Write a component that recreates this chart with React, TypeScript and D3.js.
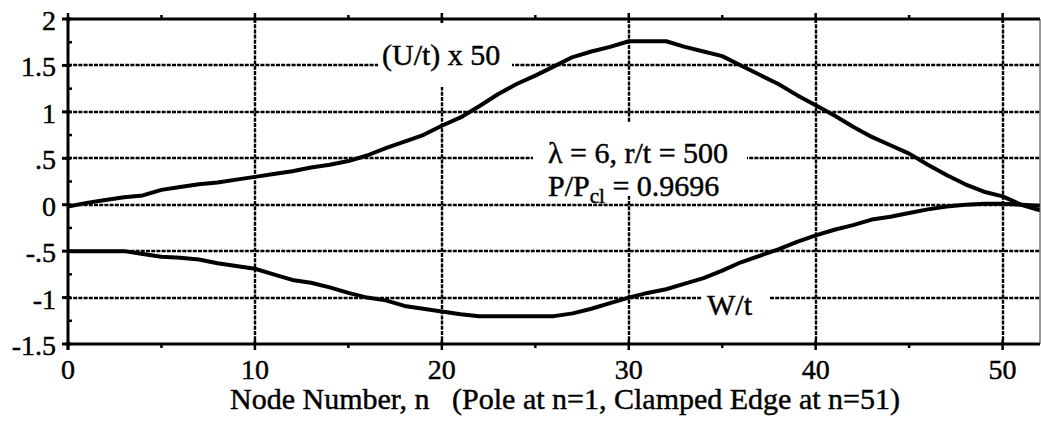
import React from "react";
import * as d3 from "d3";

// Node numbers along the shell meridian
const nodes: number[] = d3.range(0, 53);

// Meridional displacement, scaled: (U/t) x 50
const uScaled: number[] = [
  -0.02, 0.02, 0.05, 0.08, 0.1, 0.16, 0.19, 0.22, 0.24, 0.27,
  0.3, 0.33, 0.36, 0.4, 0.43, 0.47, 0.53, 0.61, 0.68, 0.75,
  0.85, 0.94, 1.06, 1.19, 1.3, 1.39, 1.49, 1.59, 1.65, 1.7,
  1.76, 1.76, 1.76, 1.7, 1.65, 1.6, 1.5, 1.4, 1.3, 1.18,
  1.07, 0.96, 0.84, 0.73, 0.64, 0.55, 0.43, 0.32, 0.22, 0.14,
  0.09, 0.0, -0.06,
];

// Normal displacement: W/t
const wNormal: number[] = [
  -0.5, -0.5, -0.5, -0.5, -0.53, -0.56, -0.57, -0.59, -0.63, -0.66,
  -0.69, -0.75, -0.81, -0.84, -0.89, -0.95, -1.0, -1.03, -1.09, -1.12,
  -1.15, -1.18, -1.2, -1.2, -1.2, -1.2, -1.2, -1.17, -1.12, -1.06,
  -1.0, -0.95, -0.91, -0.85, -0.79, -0.71, -0.62, -0.55, -0.48, -0.4,
  -0.33, -0.27, -0.22, -0.16, -0.13, -0.09, -0.05, -0.02, 0.0, 0.01,
  0.01, 0.0, -0.01,
];

const xMajorTicks: number[] = [0, 10, 20, 30, 40, 50];
const xMinorTicks: number[] = [5, 15, 25, 35, 45];
const yMajorTicks: number[] = [2, 1.5, 1, 0.5, 0, -0.5, -1, -1.5];
const yTickLabels: string[] = ["2", "1.5", "1", ".5", "0", "-.5", "-1", "-1.5"];
const yMinorTicks: number[] = [1.75, 1.25, 0.75, 0.25, -0.25, -0.75, -1.25];
const xGrid: number[] = [10, 20, 30, 40, 50];
const yGrid: number[] = [1.5, 1, 0.5, 0, -0.5, -1];

const W = 1041;
const H = 421;
const left = 68;
const right = 1040;
const top = 19;
const bottom = 344;

const FONT = "'Liberation Serif', 'Times New Roman', Times, serif";
const textStyle = { fontFamily: FONT, stroke: "#000", strokeWidth: 0.45 } as const;

export default function App() {
  const x = d3.scaleLinear().domain([0, 52]).range([left, right]);
  const y = d3.scaleLinear().domain([-1.5, 2]).range([bottom, top]);

  const line = d3
    .line<number>()
    .x((_, i) => x(nodes[i]))
    .y((d) => y(d))
    .curve(d3.curveLinear);

  const gridStyle = {
    stroke: "#000",
    strokeWidth: 2.4,
    strokeDasharray: "4 1.2",
    fill: "none",
  } as const;

  return (
    <svg
      width={W}
      height={H}
      style={{ position: "absolute", left: 0, top: 0, background: "#fff" }}
    >
      <defs>
        <clipPath id="plot">
          <rect x={left} y={top} width={right - left} height={bottom - top} />
        </clipPath>
      </defs>
      <rect x={0} y={0} width={W} height={H} fill="#fff" />

      {/* grid */}
      {yGrid.map((v) => (
        <line key={"gy" + v} x1={left} x2={right} y1={Math.round(y(v))} y2={Math.round(y(v))} {...gridStyle} />
      ))}
      {xGrid.map((v) => (
        <line key={"gx" + v} x1={Math.round(x(v))} x2={Math.round(x(v))} y1={top} y2={bottom} {...gridStyle} />
      ))}

      {/* label backgrounds mask the grid */}
      <rect x={378} y={23} width={134} height={64} fill="#fff" />
      <rect x={533} y={123} width={214} height={73} fill="#fff" />
      <rect x={702} y={285} width={68} height={32} fill="#fff" />

      {/* curves */}
      <g clipPath="url(#plot)">
        <path d={line(uScaled) ?? ""} stroke="#000" strokeWidth={4} fill="none" strokeLinejoin="round" />
        <path d={line(wNormal) ?? ""} stroke="#000" strokeWidth={4} fill="none" strokeLinejoin="round" />
      </g>

      {/* annotations */}
      <text x={382} y={65} fontSize={30} style={textStyle}>
        (U/t) x 50
      </text>
      <text x={548} y={163} fontSize={30} style={textStyle}>
        λ = 6, r/t = 500
      </text>
      <text x={548} y={196} fontSize={30} style={textStyle}>
        P/P<tspan fontSize={21} dy={7}>cl</tspan>
        <tspan dy={-7}> = 0.9696</tspan>
      </text>
      <text x={707} y={315} fontSize={30} style={textStyle}>
        W/t
      </text>

      {/* frame */}
      <line x1={left} x2={right} y1={top} y2={top} stroke="#000" strokeWidth={3} />
      <line x1={left} x2={right} y1={bottom} y2={bottom} stroke="#000" strokeWidth={3} />
      <line x1={left} x2={left} y1={top - 2} y2={bottom + 6} stroke="#000" strokeWidth={3} />
      <line x1={right} x2={right} y1={top} y2={bottom} stroke="#333" strokeWidth={1} />

      {/* y ticks */}
      {yMajorTicks.map((v) => (
        <line key={"yt" + v} x1={left - 6} x2={left + 3} y1={y(v)} y2={y(v)} stroke="#000" strokeWidth={3} />
      ))}
      {yMinorTicks.map((v) => (
        <line key={"ym" + v} x1={left} x2={left + 4} y1={y(v)} y2={y(v)} stroke="#000" strokeWidth={2.5} />
      ))}
      {yMajorTicks.map((v, i) => (
        <text key={"yl" + v} x={56} y={y(v) + 11} fontSize={28} textAnchor="end" style={textStyle}>
          {yTickLabels[i]}
        </text>
      ))}

      {/* x ticks */}
      {xMajorTicks.map((v) => (
        <g key={"xt" + v}>
          <line x1={x(v)} x2={x(v)} y1={bottom - 4} y2={bottom + 6} stroke="#000" strokeWidth={2.5} />
          <line x1={x(v)} x2={x(v)} y1={top - 6} y2={top + 4} stroke="#000" strokeWidth={2.5} />
        </g>
      ))}
      {xMinorTicks.map((v) => (
        <g key={"xm" + v}>
          <line x1={x(v)} x2={x(v)} y1={bottom} y2={bottom + 4} stroke="#000" strokeWidth={2.5} />
          <line x1={x(v)} x2={x(v)} y1={top - 4} y2={top} stroke="#000" strokeWidth={2.5} />
        </g>
      ))}
      {xMajorTicks.map((v) => (
        <text key={"xl" + v} x={x(v)} y={379} fontSize={28} textAnchor="middle" style={textStyle}>
          {v}
        </text>
      ))}

      <text x={230} y={409} fontSize={30} style={{ ...textStyle, whiteSpace: "pre" }}>
        {"Node Number, n   (Pole at n=1, Clamped Edge at n=51)"}
      </text>
    </svg>
  );
}
